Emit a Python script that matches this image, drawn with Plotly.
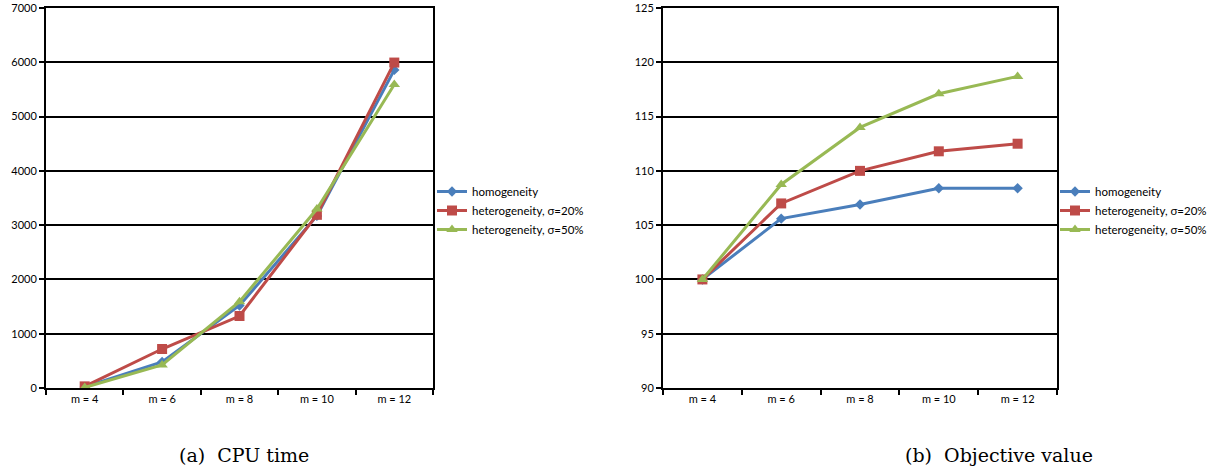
import plotly.graph_objects as go

categories = ["m = 4", "m = 6", "m = 8", "m = 10", "m = 12"]
series_names = ["homogeneity", "heterogeneity, σ=20%", "heterogeneity, σ=50%"]

cpu_homo = [20, 480, 1520, 3170, 5860]
cpu_het20 = [30, 718, 1326, 3190, 5995]
cpu_het50 = [10, 424, 1590, 3296, 5590]

obj_homo = [100, 105.6, 106.9, 108.4, 108.4]
obj_het20 = [100, 107.0, 110.0, 111.8, 112.5]
obj_het50 = [100, 108.75, 114.0, 117.1, 118.7]

colors = ["#4a7ebb", "#be4b48", "#98b954"]
symbols = ["diamond", "square", "triangle-up"]
msizes = [8, 10, 10]

W, H = 1209, 471
fig = go.Figure()

def add(series, xa, ya, legend):
    for i, vals in enumerate(series):
        fig.add_trace(go.Scatter(
            x=categories, y=vals, name=series_names[i], mode="lines+markers",
            line=dict(color=colors[i], width=3),
            marker=dict(symbol=symbols[i], size=msizes[i], color=colors[i]),
            xaxis=xa, yaxis=ya, legend=legend,
        ))

add([cpu_homo, cpu_het20, cpu_het50], "x", "y", "legend")
add([obj_homo, obj_het20, obj_het50], "x2", "y2", "legend2")

ydom = [1 - 388 / H, 1 - 8 / H]
tickfont = dict(family="Lato, Open Sans, sans-serif", size=11, color="#000")
legfont = dict(family="Lato, Open Sans, sans-serif", size=11.5, color="#000")

xcommon = dict(type="category", tickson="boundaries", showgrid=False,
               showline=True, linecolor="#000", linewidth=2, mirror=True,
               ticks="outside", ticklen=5, tickcolor="#000", tickwidth=2,
               tickfont=tickfont, range=[-0.5, 4.5], automargin=False)
ycommon = dict(showgrid=True, gridcolor="#000", gridwidth=2,
               showline=True, linecolor="#000", linewidth=2, mirror=True,
               ticks="outside", ticklen=5, tickcolor="#000", tickwidth=2,
               tickfont=tickfont, zeroline=False, automargin=False)

fig.update_layout(
    width=W, height=H,
    margin=dict(l=0, r=0, t=0, b=0, autoexpand=False),
    paper_bgcolor="white", plot_bgcolor="white",
    xaxis=dict(domain=[46 / W, 433 / W], anchor="y", **xcommon),
    yaxis=dict(domain=ydom, anchor="x", range=[0, 7000], dtick=1000, **ycommon),
    xaxis2=dict(domain=[663 / W, 1057 / W], anchor="y2", **xcommon),
    yaxis2=dict(domain=ydom, anchor="x2", range=[90, 125], dtick=5, **ycommon),
    legend=dict(x=432 / W, y=1 - 177 / H, xanchor="left", yanchor="top",
                font=legfont, bgcolor="rgba(0,0,0,0)", tracegroupgap=0, itemwidth=30),
    legend2=dict(x=1055 / W, y=1 - 177 / H, xanchor="left", yanchor="top",
                 font=legfont, bgcolor="rgba(0,0,0,0)", tracegroupgap=0, itemwidth=30),
    showlegend=True,
    annotations=[
        dict(text="(a)  CPU time", x=244 / W, y=1 - 455 / H, xref="paper", yref="paper",
             showarrow=False, xanchor="center", yanchor="middle",
             font=dict(family="DejaVu Serif, Liberation Serif, serif", size=19, color="#000")),
        dict(text="(b)  Objective value", x=999 / W, y=1 - 455 / H, xref="paper", yref="paper",
             showarrow=False, xanchor="center", yanchor="middle",
             font=dict(family="DejaVu Serif, Liberation Serif, serif", size=19, color="#000")),
    ],
)

fig.write_html("out.html", config={"displayModeBar": False},
               post_script="document.body.style.margin='0';")
